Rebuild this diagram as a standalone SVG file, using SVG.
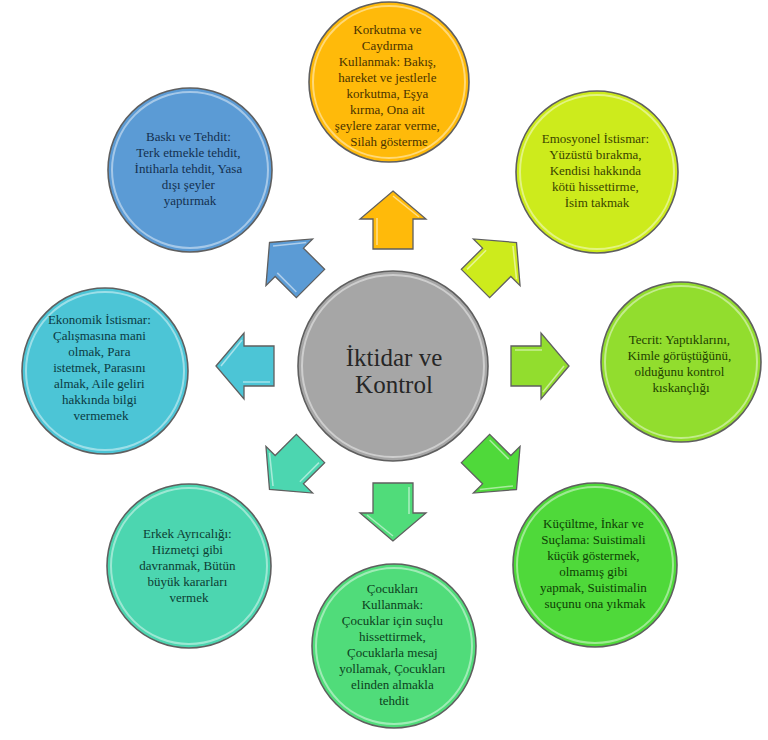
<svg xmlns="http://www.w3.org/2000/svg" width="768" height="740" viewBox="0 0 768 740">
<style>
.ring{stroke:#5f5f5f;stroke-width:1.6}
.hl{fill:none;stroke:#ffffff;stroke-opacity:0.45;stroke-width:2}
.t{font-size:13px;text-anchor:middle}
.c{font-size:25px;text-anchor:middle;fill:#262626}
.arr{stroke:#5f5f5f;stroke-width:1.3;stroke-linejoin:miter}
.arrhl{fill:none;stroke:#ffffff;stroke-opacity:0.5;stroke-width:1.6}
</style>
<defs>
<path id="ar" d="M0,-29 L33,-1 L20,-1 L20,29 L-20,29 L-20,-1 L-33,-1 Z"/>
<path id="arh" d="M-16,-2 L-16,25 M0,-24 L26,-3"/>
</defs>
<rect width="768" height="740" fill="#ffffff"/>

<g id="connectors">
<g transform="translate(393,220)"><use href="#ar" class="arr" fill="#FFBA0A"/><use href="#arh" class="arrhl"/></g>
<g transform="translate(496,263) rotate(45)"><use href="#ar" class="arr" fill="#CDEB1C"/><use href="#arh" class="arrhl"/></g>
<g transform="translate(540,366) rotate(90)"><use href="#ar" class="arr" fill="#92DD2E"/><use href="#arh" class="arrhl"/></g>
<g transform="translate(496,469) rotate(135)"><use href="#ar" class="arr" fill="#4FD93A"/><use href="#arh" class="arrhl"/></g>
<g transform="translate(393,512) rotate(180)"><use href="#ar" class="arr" fill="#50DC7A"/><use href="#arh" class="arrhl"/></g>
<g transform="translate(290,469) rotate(225)"><use href="#ar" class="arr" fill="#4CD6B0"/><use href="#arh" class="arrhl"/></g>
<g transform="translate(245,366) rotate(270)"><use href="#ar" class="arr" fill="#4CC5D6"/><use href="#arh" class="arrhl"/></g>
<g transform="translate(290,263) rotate(315)"><use href="#ar" class="arr" fill="#5B9BD5"/><use href="#arh" class="arrhl"/></g>
</g>

<g font-family="Liberation Serif, Times New Roman, Times, serif">
<g id="center">
<circle cx="393" cy="366" r="95" class="ring" fill="#A6A6A6"/>
<circle cx="393" cy="366" r="91" class="hl"/>
<text class="c" x="394" y="366">İktidar ve</text>
<text class="c" x="394" y="393">Kontrol</text>
</g>

<g id="korkutma">
<circle cx="389" cy="82" r="80" class="ring" fill="#FFBA0A"/>
<circle cx="389" cy="82" r="76" class="hl"/>
<text class="t" fill="#4a3300">
<tspan x="389" y="34">Korkutma ve</tspan>
<tspan x="389" y="50">Caydırma</tspan>
<tspan x="389" y="66">Kullanmak: Bakış,</tspan>
<tspan x="389" y="82">hareket ve jestlerle</tspan>
<tspan x="389" y="98">korkutma, Eşya</tspan>
<tspan x="389" y="114">kırma, Ona ait</tspan>
<tspan x="389" y="130">şeylere zarar verme,</tspan>
<tspan x="389" y="146">Silah gösterme</tspan>
</text>
</g>

<g id="emosyonel">
<circle cx="597" cy="172" r="81" class="ring" fill="#CDEB1C"/>
<circle cx="597" cy="172" r="77" class="hl"/>
<text class="t" fill="#3a4400">
<tspan x="597" y="143">Emosyonel İstismar:</tspan>
<tspan x="597" y="159">Yüzüstü bırakma,</tspan>
<tspan x="597" y="175">Kendisi hakkında</tspan>
<tspan x="597" y="191">kötü hissettirme,</tspan>
<tspan x="597" y="207">İsim takmak</tspan>
</text>
</g>

<g id="tecrit">
<circle cx="681" cy="362" r="80" class="ring" fill="#92DD2E"/>
<circle cx="681" cy="362" r="76" class="hl"/>
<text class="t" fill="#1f4200">
<tspan x="681" y="344">Tecrit:  Yaptıklarını,</tspan>
<tspan x="681" y="360">Kimle görüştüğünü,</tspan>
<tspan x="681" y="376">olduğunu kontrol</tspan>
<tspan x="681" y="392">kıskançlığı</tspan>
</text>
</g>

<g id="kucultme">
<circle cx="595" cy="565" r="82" class="ring" fill="#4FD93A"/>
<circle cx="595" cy="565" r="78" class="hl"/>
<text class="t" fill="#0e3f05">
<tspan x="595" y="528">Küçültme, İnkar ve</tspan>
<tspan x="595" y="544">Suçlama: Suistimali</tspan>
<tspan x="595" y="560">küçük göstermek,</tspan>
<tspan x="595" y="576">olmamış gibi</tspan>
<tspan x="595" y="592">yapmak, Suistimalin</tspan>
<tspan x="595" y="608">suçunu ona yıkmak</tspan>
</text>
</g>

<g id="cocuklari">
<circle cx="394" cy="646" r="82" class="ring" fill="#50DC7A"/>
<circle cx="394" cy="646" r="78" class="hl"/>
<text class="t" fill="#0c4020">
<tspan x="394" y="593">Çocukları</tspan>
<tspan x="394" y="609">Kullanmak:</tspan>
<tspan x="394" y="625">Çocuklar için suçlu</tspan>
<tspan x="394" y="641">hissettirmek,</tspan>
<tspan x="394" y="657">Çocuklarla mesaj</tspan>
<tspan x="394" y="673">yollamak, Çocukları</tspan>
<tspan x="394" y="689">elinden almakla</tspan>
<tspan x="394" y="705">tehdit</tspan>
</text>
</g>

<g id="erkek">
<circle cx="189" cy="566" r="82" class="ring" fill="#4CD6B0"/>
<circle cx="189" cy="566" r="78" class="hl"/>
<text class="t" fill="#0c3d33">
<tspan x="189" y="538">Erkek Ayrıcalığı:</tspan>
<tspan x="189" y="554">Hizmetçi gibi</tspan>
<tspan x="189" y="570">davranmak, Bütün</tspan>
<tspan x="189" y="586">büyük kararları</tspan>
<tspan x="189" y="602">vermek</tspan>
</text>
</g>

<g id="ekonomik">
<circle cx="105" cy="371" r="83" class="ring" fill="#4CC5D6"/>
<circle cx="105" cy="371" r="79" class="hl"/>
<text class="t" fill="#0b3a42">
<tspan x="101" y="324">Ekonomik İstismar:</tspan>
<tspan x="101" y="340">Çalışmasına mani</tspan>
<tspan x="101" y="356">olmak, Para</tspan>
<tspan x="101" y="372">istetmek, Parasını</tspan>
<tspan x="101" y="388">almak, Aile geliri</tspan>
<tspan x="101" y="404">hakkında bilgi</tspan>
<tspan x="101" y="420">vermemek</tspan>
</text>
</g>

<g id="baski">
<circle cx="190" cy="170" r="82" class="ring" fill="#5B9BD5"/>
<circle cx="190" cy="170" r="78" class="hl"/>
<text class="t" fill="#14304f">
<tspan x="190" y="141">Baskı ve Tehdit:</tspan>
<tspan x="190" y="157">Terk etmekle tehdit,</tspan>
<tspan x="190" y="173">İntiharla tehdit, Yasa</tspan>
<tspan x="190" y="189">dışı şeyler</tspan>
<tspan x="190" y="205">yaptırmak</tspan>
</text>
</g>
</g>
</svg>
